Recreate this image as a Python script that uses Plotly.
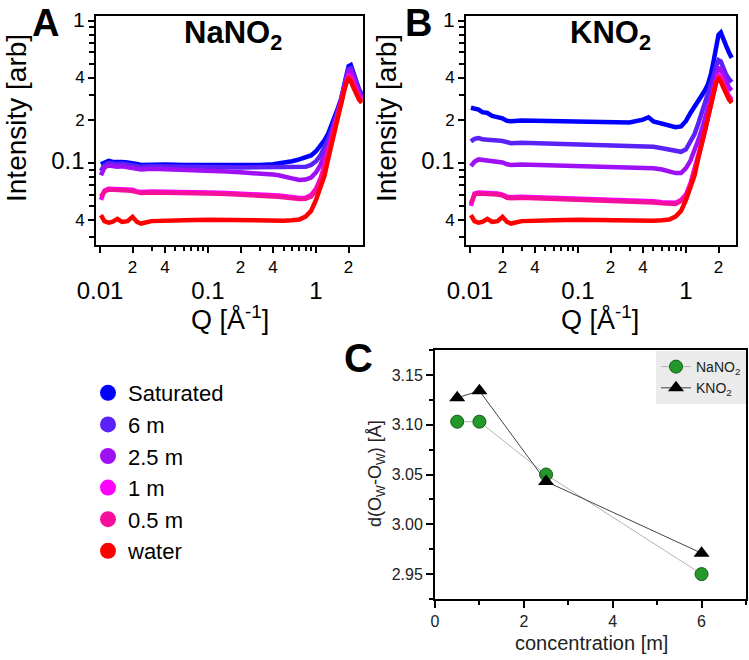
import plotly.graph_objects as go

# ---------------- data ----------------
Q = [0.0102, 0.011, 0.012, 0.013, 0.0145, 0.016, 0.018, 0.02, 0.022, 0.024,
     0.03, 0.04, 0.06, 0.1, 0.15, 0.2, 0.3, 0.4, 0.45, 0.5,
     0.6, 0.7, 0.8, 0.9, 1.0, 1.1, 1.2, 1.3, 1.4, 1.5,
     1.6, 1.7, 1.8, 1.9, 2.0, 2.1, 2.2, 2.35, 2.5, 2.65]

WATER = [0.043, 0.039, 0.038, 0.0385, 0.0405, 0.0385, 0.039, 0.0418, 0.0385, 0.0375,
         0.039, 0.0395, 0.0395, 0.0398, 0.0395, 0.0395, 0.0393, 0.0393, 0.0393, 0.0393,
         0.0395, 0.040, 0.042, 0.046, 0.055, 0.067, 0.082, 0.108, 0.138, 0.175,
         0.22, 0.27, 0.325, 0.368, 0.39, 0.375, 0.345, 0.305, 0.28, 0.265]

NANO2_SAT = [0.098, 0.101, 0.1035, 0.102, 0.101, 0.1015, 0.101, 0.1005, 0.0985, 0.097,
             0.098, 0.0975, 0.097, 0.0965, 0.0965, 0.0965, 0.097, 0.098, 0.099, 0.100,
             0.103, 0.106, 0.109, 0.113, 0.121, 0.133, 0.145, 0.162, 0.185, 0.215,
             0.245, 0.28, 0.34, 0.41, 0.48, 0.49, 0.44, 0.38, 0.33, 0.305]
NANO2_6M = [0.088, 0.097, 0.1, 0.099, 0.098, 0.099, 0.098, 0.097, 0.095, 0.094,
            0.095, 0.095, 0.094, 0.094, 0.0935, 0.093, 0.093, 0.0925, 0.0925, 0.0925,
            0.0925, 0.093, 0.094, 0.097, 0.103, 0.113, 0.128, 0.148, 0.172, 0.2,
            0.235, 0.275, 0.335, 0.4, 0.46, 0.465, 0.42, 0.365, 0.32, 0.295]
NANO2_2P5M = [0.082, 0.093, 0.096, 0.095, 0.094, 0.095, 0.094, 0.093, 0.091, 0.09,
              0.091, 0.0905, 0.089, 0.088, 0.087, 0.086, 0.085, 0.083, 0.082, 0.080,
              0.078, 0.076, 0.0765, 0.079, 0.086, 0.097, 0.112, 0.133, 0.158, 0.187,
              0.222, 0.265, 0.325, 0.39, 0.44, 0.445, 0.405, 0.35, 0.31, 0.29]
NANO2_1M = [0.055, 0.064, 0.066, 0.066, 0.065, 0.066, 0.065, 0.065, 0.063, 0.0625,
            0.063, 0.063, 0.0625, 0.062, 0.0615, 0.061, 0.0605, 0.0595, 0.059, 0.0585,
            0.0575, 0.0568, 0.057, 0.0595, 0.066, 0.078, 0.096, 0.12, 0.148, 0.18,
            0.22, 0.265, 0.325, 0.38, 0.415, 0.41, 0.375, 0.33, 0.295, 0.28]
NANO2_0P5M = [0.058, 0.063, 0.065, 0.065, 0.064, 0.065, 0.064, 0.0635, 0.062, 0.0615,
              0.062, 0.062, 0.0615, 0.061, 0.0605, 0.06, 0.0595, 0.0585, 0.058, 0.0575,
              0.0565, 0.0558, 0.056, 0.058, 0.064, 0.076, 0.094, 0.118, 0.146, 0.178,
              0.218, 0.262, 0.32, 0.372, 0.405, 0.4, 0.365, 0.32, 0.29, 0.275]

KNO2_SAT = [0.245, 0.24, 0.238, 0.228, 0.225, 0.215, 0.21, 0.206, 0.198, 0.197,
            0.199, 0.198, 0.197, 0.196, 0.195, 0.194, 0.193, 0.202, 0.21, 0.196,
            0.188, 0.183, 0.179, 0.181, 0.198, 0.225, 0.25, 0.27, 0.3, 0.325,
            0.36, 0.42, 0.52, 0.67, 0.8, 0.83, 0.77, 0.67, 0.6, 0.55]
KNO2_6M = [0.142, 0.148, 0.15, 0.147, 0.146, 0.146, 0.144, 0.143, 0.139, 0.138,
           0.139, 0.138, 0.137, 0.136, 0.135, 0.134, 0.133, 0.132, 0.131, 0.13,
           0.127, 0.124, 0.121, 0.12, 0.125, 0.14, 0.16, 0.19, 0.225, 0.26,
           0.3, 0.35, 0.41, 0.48, 0.53, 0.52, 0.47, 0.42, 0.39, 0.37]
KNO2_2P5M = [0.095, 0.102, 0.106, 0.105, 0.104, 0.104, 0.102, 0.101, 0.098, 0.097,
             0.0975, 0.097, 0.0965, 0.096, 0.0955, 0.095, 0.094, 0.093, 0.0925, 0.092,
             0.09, 0.087, 0.085, 0.085, 0.092, 0.104, 0.122, 0.145, 0.172, 0.205,
             0.245, 0.29, 0.35, 0.41, 0.465, 0.46, 0.42, 0.37, 0.34, 0.325]
KNO2_1M = [0.05, 0.061, 0.062, 0.062, 0.061, 0.061, 0.061, 0.06, 0.058, 0.0575,
           0.058, 0.0575, 0.057, 0.0565, 0.056, 0.0555, 0.055, 0.0545, 0.054, 0.0538,
           0.053, 0.0525, 0.0525, 0.055, 0.06, 0.072, 0.09, 0.113, 0.14, 0.172,
           0.212, 0.26, 0.32, 0.375, 0.415, 0.41, 0.37, 0.325, 0.295, 0.28]
KNO2_0P5M = [0.052, 0.06, 0.061, 0.061, 0.06, 0.06, 0.06, 0.059, 0.057, 0.0565,
             0.057, 0.0565, 0.056, 0.0555, 0.055, 0.0545, 0.054, 0.0535, 0.053, 0.0528,
             0.052, 0.0515, 0.0515, 0.054, 0.059, 0.07, 0.088, 0.11, 0.137, 0.169,
             0.208, 0.255, 0.315, 0.37, 0.405, 0.4, 0.36, 0.318, 0.288, 0.272]

SERIES_NAMES = ["Saturated", "6 m", "2.5 m", "1 m", "0.5 m", "water"]
SERIES_COLORS = ["#0000ff", "#5b22f8", "#a010f5", "#ff00ff", "#f5109c", "#ff0000"]

CONC = [0.5, 1.0, 2.5, 6.0]
D_NANO2 = [3.103, 3.103, 3.050, 2.950]
D_KNO2 = [3.127, 3.134, 3.043, 2.971]

X_SMALL_TICKS = [0.02, 0.04, 0.2, 0.4, 2]
X_SMALL_LABELS = ["2", "4", "2", "4", "2"]
X_BIG_TICKS = [0.01, 0.1, 1]
X_BIG_LABELS = ["0.01", "0.1", "1"]
X_MINOR = [0.03, 0.05, 0.06, 0.07, 0.08, 0.09, 0.3, 0.5, 0.6, 0.7, 0.8, 0.9]
Y_TICKS = [1, 0.4, 0.2, 0.1, 0.04]
Y_LABELS = ["<span style='font-size:21px'>1</span>", "4", "2",
            "<span style='font-size:24px'>0.1</span>", "4"]
Y_MINOR = [0.03, 0.05, 0.06, 0.07, 0.08, 0.09, 0.3, 0.5, 0.6, 0.7, 0.8, 0.9]

# ---------------- figure ----------------
W, H = 749, 660
FONT = "Liberation Sans, Arial, Helvetica, sans-serif"

def px_x(p):
    return p / W

def px_y(p):
    return 1 - p / H

fig = go.Figure()

panelA = [NANO2_SAT, NANO2_6M, NANO2_2P5M, NANO2_1M, NANO2_0P5M, WATER]
panelB = [KNO2_SAT, KNO2_6M, KNO2_2P5M, KNO2_1M, KNO2_0P5M, WATER]

# water (last) curves go on the overlay x axes so that those axes are drawn
for i, (vals, name, col) in enumerate(zip(panelA, SERIES_NAMES, SERIES_COLORS)):
    fig.add_trace(go.Scatter(x=Q, y=vals, mode="lines", name=name,
                             line=dict(color=col, width=4.5), showlegend=False,
                             xaxis="x4" if i == 5 else "x", yaxis="y"))
for i, (vals, name, col) in enumerate(zip(panelB, SERIES_NAMES, SERIES_COLORS)):
    fig.add_trace(go.Scatter(x=Q, y=vals, mode="lines", name=name,
                             line=dict(color=col, width=4.5), showlegend=False,
                             xaxis="x5" if i == 5 else "x2", yaxis="y2"))
# legend entries (circles)
for name, col in zip(SERIES_NAMES, SERIES_COLORS):
    fig.add_trace(go.Scatter(x=[None], y=[None], mode="markers", name=name,
                             marker=dict(color=col, size=16, symbol="circle"),
                             showlegend=True, legend="legend",
                             xaxis="x", yaxis="y"))

# panel C
fig.add_trace(go.Scatter(x=CONC, y=D_NANO2, mode="lines+markers", name="NaNO<sub>2</sub>",
                         line=dict(color="#b4b4b4", width=1),
                         marker=dict(color="#22992a", size=13, symbol="circle",
                                     line=dict(color="#145a14", width=1)),
                         xaxis="x3", yaxis="y3", legend="legend2"))
fig.add_trace(go.Scatter(x=CONC, y=D_KNO2, mode="lines+markers", name="KNO<sub>2</sub>",
                         line=dict(color="#444444", width=1),
                         marker=dict(color="#000000", size=14, symbol="triangle-up"),
                         xaxis="x3", yaxis="y3", legend="legend2"))

domA = [px_x(96), px_x(363)]
domB = [px_x(466), px_x(736)]
domY = [px_y(245), px_y(16)]
rangeA = [-2.037, 0.435]
rangeB = [-2.037, 0.463]
rangeY = [-1.577, 0.035]

def log_x(dom, rng, anchor):
    return dict(type="log", domain=dom, range=rng, anchor=anchor, automargin=False,
                showline=True, linecolor="black", linewidth=2, mirror=True,
                showgrid=False, zeroline=False,
                ticks="outside", ticklen=6, tickwidth=1.5, tickcolor="black",
                tickvals=X_SMALL_TICKS, ticktext=X_SMALL_LABELS,
                tickfont=dict(family=FONT, size=17, color="black"),
                minor=dict(tickvals=X_MINOR, ticks="outside", ticklen=4,
                           tickwidth=1.5, tickcolor="black", showgrid=False))

def log_x_big(over, rng, anchor):
    return dict(type="log", overlaying=over, range=rng, anchor=anchor, side="bottom",
                automargin=False,
                showline=False, showgrid=False, zeroline=False,
                ticks="outside", ticklen=7, tickwidth=1.5, tickcolor="black",
                tickvals=X_BIG_TICKS, ticktext=X_BIG_LABELS,
                ticklabelstandoff=17,
                tickfont=dict(family=FONT, size=24, color="black"))

def log_y(rng, anchor):
    return dict(type="log", domain=domY, range=rng, anchor=anchor, automargin=False,
                showline=True, linecolor="black", linewidth=2, mirror=True,
                showgrid=False, zeroline=False,
                ticks="outside", ticklen=6, tickwidth=1.5, tickcolor="black",
                tickvals=Y_TICKS, ticktext=Y_LABELS,
                tickfont=dict(family=FONT, size=17, color="black"),
                minor=dict(tickvals=Y_MINOR, ticks="outside", ticklen=5,
                           tickwidth=1.5, tickcolor="black", showgrid=False))

fig.update_layout(
    width=W, height=H, margin=dict(l=0, r=0, t=0, b=0, autoexpand=False),
    paper_bgcolor="white", plot_bgcolor="white",
    font=dict(family=FONT, color="black"),
    xaxis=log_x(domA, rangeA, "y"),
    yaxis=log_y(rangeY, "x"),
    xaxis2=log_x(domB, rangeB, "y2"),
    yaxis2=log_y(rangeY, "x2"),
    xaxis4=log_x_big("x", rangeA, "y"),
    xaxis5=log_x_big("x2", rangeB, "y2"),
    xaxis3=dict(domain=[px_x(435), px_x(746)], range=[0, 7], anchor="y3",
                automargin=False,
                showline=True, linecolor="black", linewidth=2, mirror=True,
                showgrid=False, zeroline=False,
                ticks="outside", ticklen=7, tickwidth=1.5, tickcolor="black",
                tickvals=[0, 2, 4, 6],
                tickfont=dict(family=FONT, size=16, color="#222"),
                minor=dict(tickvals=[1, 3, 5, 7], ticks="outside", ticklen=4,
                           tickwidth=1.5, tickcolor="black", showgrid=False)),
    yaxis3=dict(domain=[px_y(599), px_y(350)], range=[2.925, 3.175], anchor="x3",
                automargin=False,
                showline=True, linecolor="black", linewidth=2, mirror=True,
                showgrid=False, zeroline=False,
                ticks="outside", ticklen=7, tickwidth=1.5, tickcolor="black",
                tickvals=[2.95, 3.0, 3.05, 3.1, 3.15], tickformat=".2f",
                tickfont=dict(family=FONT, size=16, color="#222"),
                minor=dict(tickvals=[2.925, 2.975, 3.025, 3.075, 3.125, 3.175],
                           ticks="outside", ticklen=4, tickwidth=1.5,
                           tickcolor="black", showgrid=False)),
    legend=dict(x=px_x(88), y=px_y(372), xanchor="left", yanchor="top",
                font=dict(family=FONT, size=22, color="black"),
                bgcolor="rgba(0,0,0,0)", borderwidth=0, itemsizing="trace"),
    legend2=dict(x=px_x(746), y=px_y(351), xanchor="right", yanchor="top",
                 font=dict(family=FONT, size=14, color="#222"),
                 bgcolor="#ebebeb", borderwidth=0),
)

ann = []
def add_text(text, x, y, size, bold=False, angle=0, color="black", yanchor="middle"):
    t = f"<b>{text}</b>" if bold else text
    ann.append(dict(text=t, x=px_x(x), y=px_y(y), xref="paper", yref="paper",
                    showarrow=False, xanchor="center", yanchor=yanchor,
                    textangle=angle, font=dict(family=FONT, size=size, color=color)))

add_text("A", 45, 0, 38, bold=True, yanchor="top")
add_text("B", 418, 0, 38, bold=True, yanchor="top")
add_text("C", 358, 358, 40, bold=True)
add_text("NaNO<sub>2</sub>", 233, 35, 31, bold=True)
add_text("KNO<sub>2</sub>", 610, 35, 31, bold=True)
add_text("Intensity [arb]", 16, 118, 28, angle=-90)
add_text("Intensity [arb]", 386, 118, 28, angle=-90)
add_text("Q [Å<sup>-1</sup>]", 230, 318, 27)
add_text("Q [Å<sup>-1</sup>]", 600, 318, 27)
add_text("d(O<sub>W</sub>-O<sub>W</sub>) [Å]", 376, 474, 18, angle=-90, color="#222")
add_text("concentration [m]", 591, 643, 20, color="#222")
fig.update_layout(annotations=ann)

fig.write_html("out.html")
